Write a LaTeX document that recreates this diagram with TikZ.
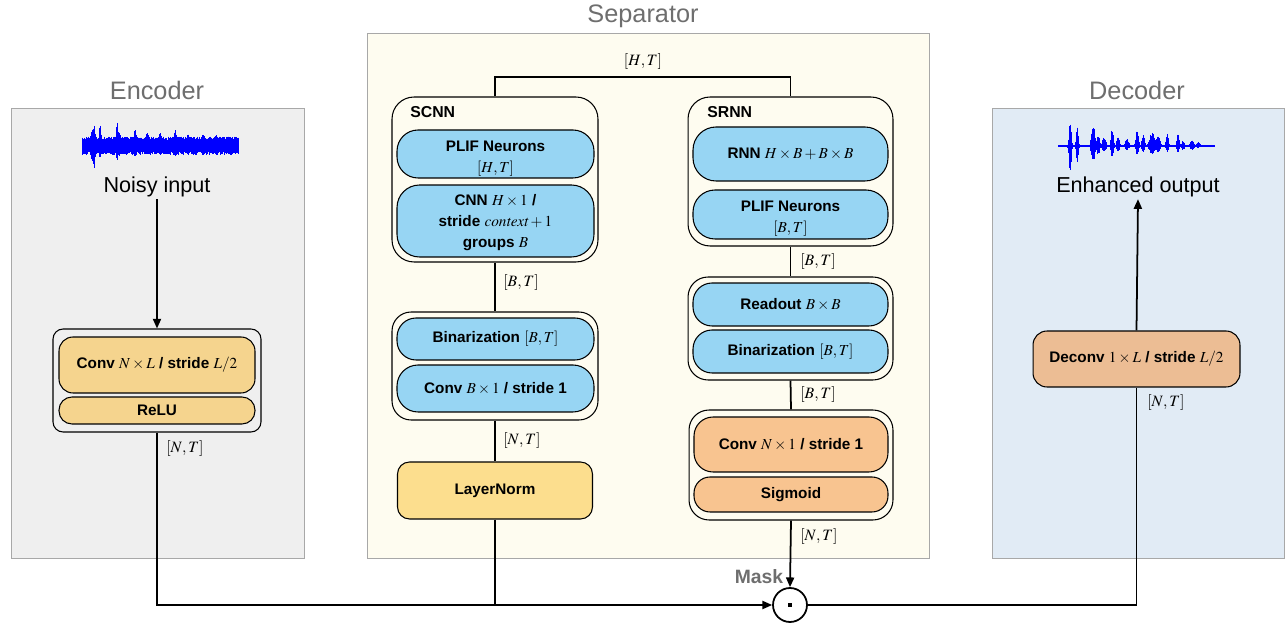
\documentclass[tikz,border=0pt]{standalone}
\usepackage{mathptmx}
\usepackage[no-math]{fontspec}
\setsansfont{Liberation Sans}
\usetikzlibrary{arrows.meta,calc}

\definecolor{panelline}{HTML}{A8A8A8}
\definecolor{encbg}{HTML}{EFEFEF}
\definecolor{sepbg}{HTML}{FEFCF0}
\definecolor{decbg}{HTML}{E1EBF5}
\definecolor{titlegray}{HTML}{6E6E6E}
\definecolor{skyb}{HTML}{97D5F3}
\definecolor{convyel}{HTML}{F5D48E}
\definecolor{normyel}{HTML}{FCDE8E}
\definecolor{peach}{HTML}{F8C490}
\definecolor{tan}{HTML}{ECBD94}
\definecolor{wave}{HTML}{0000FF}

\tikzset{
  panel/.style={draw=panelline, line width=0.5pt},
  ttl/.style={text=titlegray, font=\sffamily\fontsize{14.4}{16}\selectfont},
  lbl/.style={font=\sffamily\fontsize{12.3}{14}\selectfont, inner sep=1pt},
  grp/.style={draw=black, line width=0.6pt},
  grpname/.style={font=\sffamily\bfseries\fontsize{9}{10}\selectfont, anchor=west, inner sep=0pt},
  blk/.style={draw=black, line width=0.6pt, align=center, inner sep=0pt,
    font=\sffamily\bfseries\fontsize{8.7}{12}\selectfont},
  dimlbl/.style={font=\fontsize{9}{10}\selectfont, anchor=west, inner sep=0pt},
  conn/.style={line width=1pt},
  arr/.style={conn, -{Triangle[length=5.5pt,width=4.6pt]}},
  wv/.style={draw=wave, line width=0.36pt}
}

\begin{document}
\begin{tikzpicture}[x=0.02cm, y=-0.02cm]
\useasboundingbox (0,0) rectangle (1285,624);

% ---------- panels ----------
\draw[panel, fill=encbg] (11,108) rectangle (304,558);
\draw[panel, fill=sepbg] (367,33) rectangle (929,558);
\draw[panel, fill=decbg] (992,108) rectangle (1284,558);

\node[ttl] (enct) at (157,90) {Encoder};
\node[ttl] (sept) at (643,16) {Separator};
\node[ttl] (dect) at (1137,90) {Decoder};

% ---------- noisy waveform ----------
\pgfmathsetseed{11}
\foreach \i in {0,...,312}{
  \pgfmathsetmacro{\xx}{82+0.5*\i}
  \pgfmathsetmacro{\up}{6+3.5*rnd}
  \pgfmathsetmacro{\dn}{5.5+3.5*rnd}
  \draw[wv] (\xx,{146-\up}) -- (\xx,{146+\dn});
}
\foreach \c/\u/\d/\w in {92/10/10/1.5, 94/16/19/1.0, 100/17/7/0.9, 117/17/8/1.1,
    119/7/4/1.6, 135/10/5/1.3, 147/7/3/1.4, 160/6/3/1.4, 175/9/4/1.3,
    188/5/3/1.4, 203/5/2/1.4, 216/4/3/1.4, 228/3/2/1.4}{
  \foreach \k in {-12,...,12}{
    \pgfmathsetmacro{\xx}{\c+0.5*\k}
    \pgfmathsetmacro{\b}{exp(-min(abs(0.5*\k/\w),3.5)*min(abs(0.5*\k/\w),3.5))*(0.75+0.25*rnd)}
    \draw[wv] (\xx,{146-7-\u*\b}) -- (\xx,{146+6+\d*\b});
  }
}

% ---------- clean waveform ----------
\draw[wv, line width=0.6pt] (1058,146) -- (1215,146);
\foreach \c/\u/\d/\w in {1070/24/27/1.5, 1077/20/17/1.3, 1093/23/17/2.2, 1098/12/10/1.8,
    1104/9/6/2.4, 1112/18/12/1.5, 1118/10/6/1.8, 1127/7/4/2.4, 1137/16/9/1.9,
    1143/11/6/1.8, 1152/14/9/3.4, 1158/11/7/2.4, 1167/13/6/1.5, 1178/13/7/1.5,
    1183/5/4/1.8, 1192/6/4/2.4, 1198/4/2/2.4}{
  \foreach \k in {-14,...,14}{
    \pgfmathsetmacro{\xx}{\c+0.5*\k}
    \pgfmathsetmacro{\b}{exp(-min(abs(0.5*\k/\w),3.5)*min(abs(0.5*\k/\w),3.5))*(0.7+0.3*rnd)}
    \draw[wv] (\xx,{146-\u*\b}) -- (\xx,{146+\d*\b});
  }
}

\node[lbl] (noisy) at (157,187) {Noisy input};
\node[lbl] (enh) at (1138,187) {Enhanced output};

% ---------- encoder ----------
\node[grp, rounded corners=0.2cm, minimum width=4.16cm, minimum height=2.06cm] (encout) at (157,380.5) {};
\node[blk, fill=convyel, rounded corners=0.28cm, minimum width=3.92cm, minimum height=1.12cm] (enconv) at (157,365)
  {Conv $N\times L$ / stride $L/2$};
\node[blk, fill=convyel, rounded corners=0.26cm, minimum width=3.92cm, minimum height=0.54cm] (relu) at (157,410.5) {ReLU};

% ---------- separator: SCNN ----------
\node[grp, rounded corners=0.44cm, minimum width=4.12cm, minimum height=3.3cm] (scnn) at (495,179.5) {};
\node[grpname] (scnnname) at (410,112) {SCNN};
\node[blk, fill=skyb, rounded corners=0.42cm, minimum width=3.94cm, minimum height=0.96cm] (plifa) at (495.5,154)
  {\rule{0pt}{11pt}PLIF Neurons\\ {\mdseries$[H,T]$}};
\node[blk, fill=skyb, rounded corners=0.45cm, minimum width=3.94cm, minimum height=1.44cm] (cnn) at (495.5,221)
  {\rule{0pt}{8pt}CNN $H\times 1$ /\\ stride $\mathit{context}+1$\\ groups $B$};

\node[grp, rounded corners=0.38cm, minimum width=4.12cm, minimum height=2.16cm] (binout) at (495,366) {};
\node[blk, fill=skyb, rounded corners=0.38cm, minimum width=3.94cm, minimum height=0.84cm] (bina) at (495.5,339)
  {Binarization {\mdseries$[B,T]$}};
\node[blk, fill=skyb, rounded corners=0.42cm, minimum width=3.94cm, minimum height=0.94cm] (convb) at (495.5,388.5)
  {Conv $B\times 1$ / stride 1};

\node[blk, fill=normyel, rounded corners=0.24cm, minimum width=3.9cm, minimum height=1.14cm] (lnorm) at (495,490.5) {LayerNorm};

% ---------- separator: SRNN ----------
\node[grp, rounded corners=0.44cm, minimum width=4.1cm, minimum height=2.98cm] (srnn) at (790.5,171.5) {};
\node[grpname] (srnnname) at (707,112) {SRNN};
\node[blk, fill=skyb, rounded corners=0.46cm, minimum width=3.9cm, minimum height=1.08cm] (rnn) at (790.5,154)
  {RNN $H\times B+B\times B$};
\node[blk, fill=skyb, rounded corners=0.44cm, minimum width=3.9cm, minimum height=0.98cm] (plifb) at (790.5,214.5)
  {\rule{0pt}{11pt}PLIF Neurons\\ {\mdseries$[B,T]$}};

\node[grp, rounded corners=0.4cm, minimum width=4.1cm, minimum height=2.06cm] (rdout) at (790.5,328.5) {};
\node[blk, fill=skyb, rounded corners=0.38cm, minimum width=3.9cm, minimum height=0.86cm] (readout) at (790.5,304.5)
  {Readout $B\times B$};
\node[blk, fill=skyb, rounded corners=0.38cm, minimum width=3.9cm, minimum height=0.86cm] (binb) at (790.5,351.5)
  {Binarization {\mdseries$[B,T]$}};

\node[grp, rounded corners=0.4cm, minimum width=4.08cm, minimum height=2.2cm] (maskout) at (791,465) {};
\node[blk, fill=peach, rounded corners=0.38cm, minimum width=3.88cm, minimum height=1.1cm] (convn) at (791,444.5)
  {Conv $N\times 1$ / stride 1};
\node[blk, fill=peach, rounded corners=0.32cm, minimum width=3.88cm, minimum height=0.7cm] (sigm) at (791,494.5) {Sigmoid};

% ---------- decoder ----------
\node[blk, fill=tan, rounded corners=0.28cm, minimum width=4.14cm, minimum height=1.12cm] (deconv) at (1136.5,359)
  {Deconv $1\times L$ / stride $L/2$};

% ---------- product node ----------
\node[draw=black, line width=1pt, circle, minimum size=0.68cm, inner sep=0pt] (prod) at (790,605) {};
\fill (prod.center) ++(-2.3,-2.3) rectangle ++(4.6,4.6);
\node[font=\sffamily\bfseries\fontsize{11}{12}\selectfont, text=titlegray, inner sep=0pt] (masklbl) at (759,577) {Mask};

% ---------- connectors ----------
\coordinate (hbar) at (643,77);
\draw[arr] (noisy.south) -- (encout.north);
\draw[arr] (encout.south) |- (prod.west);
\draw[conn] (scnn.north) |- (hbar) -| (srnn.north);
\draw[conn] (scnn.south) -- (binout.north);
\draw[conn] (binout.south) -- (lnorm.north);
\draw[conn] (lnorm.south) -- (lnorm.south |- prod.west);
\draw[conn] (srnn.south) -- (rdout.north);
\draw[conn] (rdout.south) -- (maskout.north);
\draw[arr] (maskout.south) -- (prod.north);
\draw[conn] (prod.east) -| (deconv.south);
\draw[arr] (deconv.north) -- (enh.south);

% ---------- shape labels ----------
\node[font=\fontsize{9}{10}\selectfont, inner sep=0pt] (htl) at (643,62) {$[H,T]$};
\node[dimlbl] (d1) at (166,449) {$[N,T]$};
\node[dimlbl] (d2) at (503,283) {$[B,T]$};
\node[dimlbl] (d3) at (503,441) {$[N,T]$};
\node[dimlbl] (d4) at (800,262) {$[B,T]$};
\node[dimlbl] (d5) at (800,395) {$[B,T]$};
\node[dimlbl] (d6) at (800,537) {$[N,T]$};
\node[dimlbl] (d7) at (1147,403) {$[N,T]$};
\end{tikzpicture}
\end{document}
